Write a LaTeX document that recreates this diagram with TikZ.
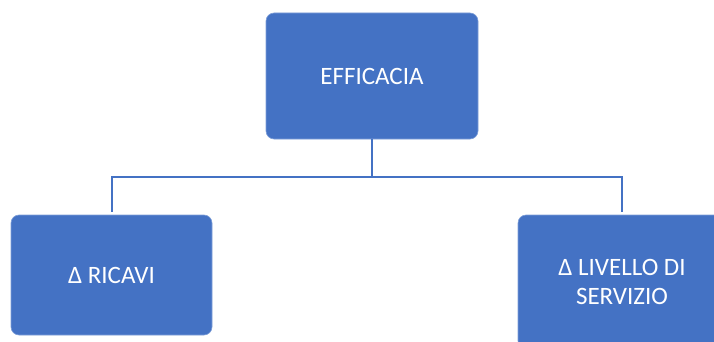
\documentclass[tikz,border=0pt]{standalone}
\usepackage{fontspec}
\setmainfont{Carlito}
\definecolor{boxblue}{HTML}{4472C4}
\definecolor{edgeblue}{HTML}{7F9FD8}
\begin{document}
\begin{tikzpicture}[x=1pt,y=-1pt,
  orgbox/.style={rectangle, rounded corners=8pt, fill=boxblue, draw=edgeblue,
    line width=0.6pt, text=white, align=center, inner sep=0pt,
    font=\fontsize{25}{29}\selectfont},
  link/.style={draw=boxblue, line width=2pt}]
  \useasboundingbox (0,0) rectangle (714,342);
  % boxes
  \node[orgbox, minimum width=212pt, minimum height=126pt] (top) at (372,76) {EFFICACIA};
  \node[orgbox, minimum width=201pt, minimum height=120pt] (left) at (111.5,275) {Δ RICAVI};
  \node[orgbox, minimum width=208pt, minimum height=134pt] (right) at (622,282) {Δ LIVELLO DI\\SERVIZIO};
  % hierarchy connectors
  \coordinate (bus) at (372,177);
  \draw[link] (top.south) -- (bus);
  \draw[link] ([yshift=3pt]left.north) |- (bus) -| ([yshift=3pt]right.north);
\end{tikzpicture}
\end{document}
